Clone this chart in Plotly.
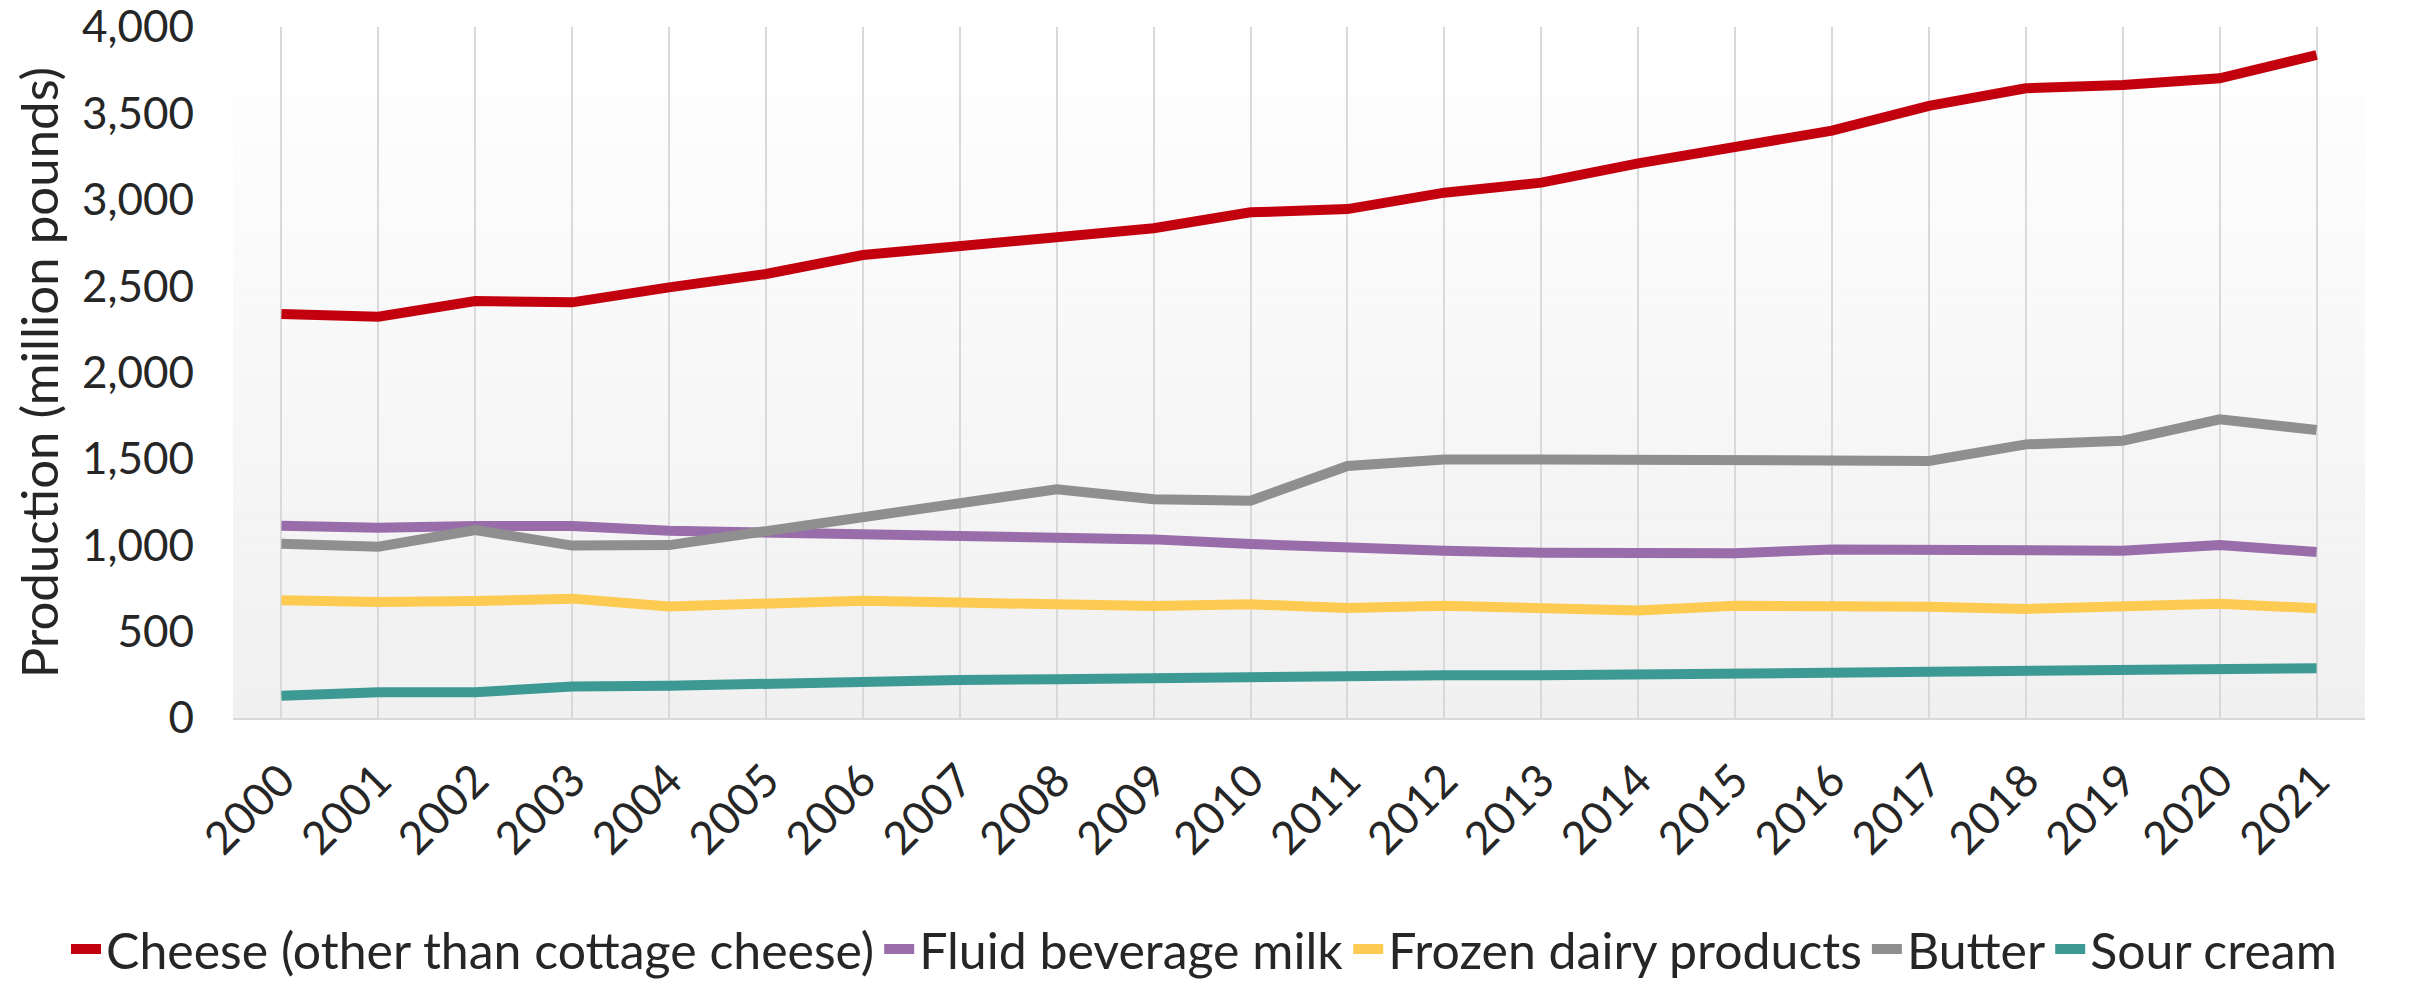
import plotly.graph_objects as go

years = [str(y) for y in range(2000, 2022)]

cheese = [2339, 2323, 2414, 2406, 2493, 2570, 2680, 2728, 2790, 2835, 2927, 2946,
          3041, 3099, 3211, 3302, 3400, 3543, 3645, 3664, 3703, 3838]
fluid_milk = [1113, 1102, 1111, 1111, 1084, 1075, 1069, 1055, 1040, 1034, 1007, 982,
              968, 957, 949, 953, 976, 976, 976, 968, 1001, 961]
frozen = [681, 671, 677, 691, 646, 660, 679, 668, 656, 648, 658, 637,
          650, 641, 623, 650, 654, 644, 631, 646, 662, 635]
butter = [1009, 992, 1088, 998, 1001, 1079, 1165, 1233, 1324, 1266, 1258, 1459,
          1497, 1497, 1492, 1490, 1480, 1488, 1584, 1605, 1729, 1667]
sour_cream = [129, 149, 149, 183, 187, 199, 216, 220, 224, 232, 237, 241,
              247, 247, 251, 255, 262, 266, 270, 276, 282, 288]

series_names = ["Cheese (other than cottage cheese)", "Fluid beverage milk",
                "Frozen dairy products", "Butter", "Sour cream"]
series_values = [cheese, fluid_milk, frozen, butter, sour_cream]
series_colors = ["#C3000D", "#986DAA", "#FDCA52", "#8F8F8F", "#3D9993"]

y_ticks = [0, 500, 1000, 1500, 2000, 2500, 3000, 3500, 4000]

FONT = "Lato"
TEXT = "#262626"
# the page body has an 8px default margin, so the figure is drawn 8px in
# from the top-left corner of the 2430x985 window
OFF = 8
W, H = 2430 - OFF, 985 - OFF
ML, MR, MT, MB = 233 - OFF, 65, 27 - OFF, 267

fig = go.Figure()
for name, vals, col in zip(series_names, series_values, series_colors):
    fig.add_trace(go.Scatter(
        x=years, y=vals, name=name, mode="lines",
        line=dict(color=col, width=10),
    ))

# gradient plot background (white top -> light grey bottom)
shapes = []
n = 60
for i in range(n):
    t = (i + 0.5) / n
    c = int(round(255 - 15 * t))
    shapes.append(dict(
        type="rect", xref="paper", yref="paper",
        x0=0, x1=1, y0=1 - (i + 1) / n, y1=1 - i / n,
        fillcolor=f"rgb({c},{c},{c})", line=dict(width=0), layer="below",
    ))

# thin red border at the right edge of the image
pw = W - ML - MR
ph = H - MT - MB
shapes.append(dict(
    type="rect", xref="paper", yref="paper",
    x0=(W - 4 - ML) / pw, x1=(W + 2 - ML) / pw,
    y0=-(MB + 10) / ph, y1=1 + (MT + 10) / ph,
    fillcolor="#C00000", line=dict(width=0), layer="above",
))

legend_center_y = 949 - OFF   # figure pixels from top
legend_left_x = 66 - OFF      # figure pixels from left
fig.update_layout(
    width=W, height=H,
    margin=dict(l=ML, r=MR, t=MT, b=MB, autoexpand=False),
    paper_bgcolor="white",
    plot_bgcolor="white",
    font=dict(family=FONT, color=TEXT, size=44),
    shapes=shapes,
    showlegend=True,
    legend=dict(
        orientation="h",
        xref="paper", yref="paper",
        x=(legend_left_x - ML) / pw, xanchor="left",
        y=-(legend_center_y - (H - MB)) / ph, yanchor="middle",
        font=dict(family=FONT, size=50, color=TEXT),
        itemwidth=30,
        tracegroupgap=0,
        bgcolor="rgba(0,0,0,0)",
    ),
    xaxis=dict(
        type="category",
        range=[-0.5, len(years) - 0.5],
        showgrid=True, gridcolor="#D9D9D9", gridwidth=1.5,
        showline=True, linecolor="#D9D9D9", linewidth=2,
        ticks="", tickangle=-45, ticklabelstandoff=16,
        tickfont=dict(family=FONT, size=45, color=TEXT),
        zeroline=False, automargin=False,
    ),
    yaxis=dict(
        range=[0, 4000],
        tickvals=y_ticks,
        tickformat=",d",
        showgrid=False, zeroline=False, showline=False,
        ticks="", ticklabelstandoff=38, ticklabeloverflow="allow",
        tickfont=dict(family=FONT, size=44, color=TEXT),
        automargin=False,
        title=dict(text="Production (million pounds)",
                   font=dict(family=FONT, size=51, color=TEXT), standoff=16),
    ),
)

fig.write_html("out.html")
